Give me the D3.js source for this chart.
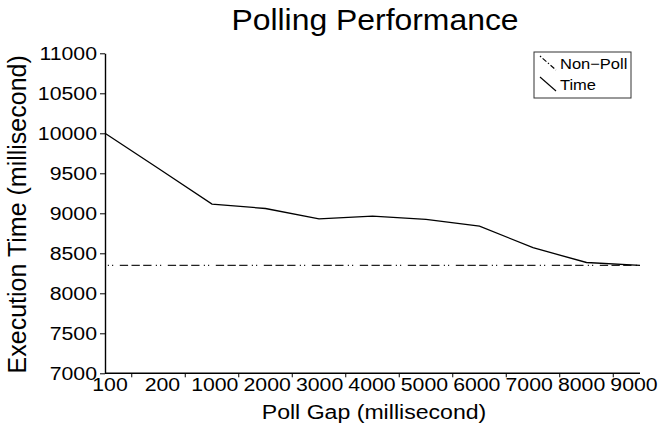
<!DOCTYPE html>
<html>
<head>
<meta charset="utf-8">
<script src="https://cdn.jsdelivr.net/npm/d3@7"></script>
<style>
  html, body { margin: 0; padding: 0; background: #fff; }
  svg { display: block; font-family: "Liberation Sans", Arial, Helvetica, sans-serif; }
</style>
</head>
<body>
<svg id="chart" width="660" height="431"></svg>
<script>
// Poll gap categories (ms) and measured execution times (ms)
const pollGaps = ["100", "200", "1000", "2000", "3000", "4000", "5000", "6000", "7000", "8000", "9000"];
const timeValues = [10000, 9560, 9115, 9060, 8930, 8965, 8925, 8840, 8570, 8385, 8350];
const nonPollValue = 8350;
const yTickValues = [7000, 7500, 8000, 8500, 9000, 9500, 10000, 10500, 11000];
const legendLabels = ["Non\u2212Poll", "Time"];

const svg = d3.select("#chart");

const plot = { left: 105, right: 640, top: 53.3, bottom: 373.3 };
const widen = 1.1; // glyphs are drawn slightly wide

const x = d3.scalePoint().domain(pollGaps).range([plot.left, plot.right]);
const xLabel = d3.scalePoint().domain(pollGaps).range([plot.left + 5, plot.right - 6]);
const y = d3.scaleLinear().domain([7000, 11000]).range([plot.bottom, plot.top]);

// Places a horizontally widened text at (px, py)
function wideText(sel, px, py, sx) {
  return sel.attr("transform", (d, i) => {
    const tx = typeof px === "function" ? px(d, i) : px;
    const ty = typeof py === "function" ? py(d, i) : py;
    return `translate(${tx},${ty}) scale(${sx},1)`;
  });
}

// Title
wideText(svg.append("text"), 375, 30, widen)
  .attr("text-anchor", "middle")
  .attr("font-size", 29)
  .text("Polling Performance");

// Y axis line and ticks
const yAxis = d3.axisLeft(y).tickValues(yTickValues).tickSize(5).tickSizeOuter(0).tickFormat("");
const gy = svg.append("g").attr("transform", `translate(${plot.left},0)`).call(yAxis);
gy.select(".domain").attr("stroke", "#000").attr("stroke-width", 1.4);
gy.selectAll(".tick line").attr("stroke", "#000").attr("stroke-width", 1);
gy.selectAll(".tick text").remove();
wideText(svg.append("g").selectAll("text").data(yTickValues).join("text"),
    plot.left - 8, d => y(d), 1.12)
  .attr("text-anchor", "end")
  .attr("dy", "0.36em")
  .attr("font-size", 19)
  .text(d3.format("d"));

// X axis: ticks sit between categories, labels under each category
const step = x.step();
const midpoints = pollGaps.slice(0, -1).map(c => x(c) + step / 2);
svg.append("line")
  .attr("x1", plot.left).attr("x2", plot.right)
  .attr("y1", plot.bottom).attr("y2", plot.bottom)
  .attr("stroke", "#000").attr("stroke-width", 1.4);
svg.append("g").selectAll("line").data(midpoints).join("line")
  .attr("x1", d => d).attr("x2", d => d)
  .attr("y1", plot.bottom).attr("y2", plot.bottom + 4)
  .attr("stroke", "#000").attr("stroke-width", 1);
wideText(svg.append("g").selectAll("text").data(pollGaps).join("text"),
    d => xLabel(d), plot.bottom + 18, 1.12)
  .attr("text-anchor", "middle")
  .attr("font-size", 19)
  .text(d => d);

// Axis titles
wideText(svg.append("text"), 374, 419, widen)
  .attr("text-anchor", "middle")
  .attr("font-size", 21)
  .text("Poll Gap (millisecond)");
svg.append("text")
  .attr("transform", `translate(26,${(plot.top + plot.bottom) / 2 + 1}) rotate(-90)`)
  .attr("text-anchor", "middle")
  .attr("font-size", 25)
  .text("Execution Time (millisecond)");

// Non-poll baseline
const dash = "8.3,3.4,8.3,3.4,8.3,4.3,1.2,3,1.2,6.6";
svg.append("path")
  .datum(pollGaps)
  .attr("fill", "none")
  .attr("stroke", "#222")
  .attr("stroke-width", 1.2)
  .attr("stroke-dasharray", dash)
  .attr("stroke-dashoffset", 33.2)
  .attr("d", d3.line().x(d => x(d)).y(() => y(nonPollValue)));

// Time series
svg.append("path")
  .datum(timeValues)
  .attr("fill", "none")
  .attr("stroke", "#000")
  .attr("stroke-width", 1.3)
  .attr("d", d3.line().x((d, i) => x(pollGaps[i])).y(d => y(d)));

// Legend
const legend = svg.append("g").attr("transform", "translate(534,52)");
legend.append("rect")
  .attr("width", 97).attr("height", 46)
  .attr("fill", "#fff").attr("stroke", "#333").attr("stroke-width", 1);
const entries = legend.selectAll("g.entry").data(legendLabels).join("g")
  .attr("class", "entry")
  .attr("transform", (d, i) => `translate(0,${i * 21})`);
entries.append("line")
  .attr("x1", 6).attr("y1", 4).attr("x2", 22).attr("y2", 18)
  .attr("stroke", "#000").attr("stroke-width", 1.1)
  .attr("stroke-dasharray", (d, i) => i === 0 ? "1.5,2,5,2" : null);
wideText(entries.append("text"), 26, 17, widen)
  .attr("font-size", 15)
  .text(d => d);
</script>
</body>
</html>
